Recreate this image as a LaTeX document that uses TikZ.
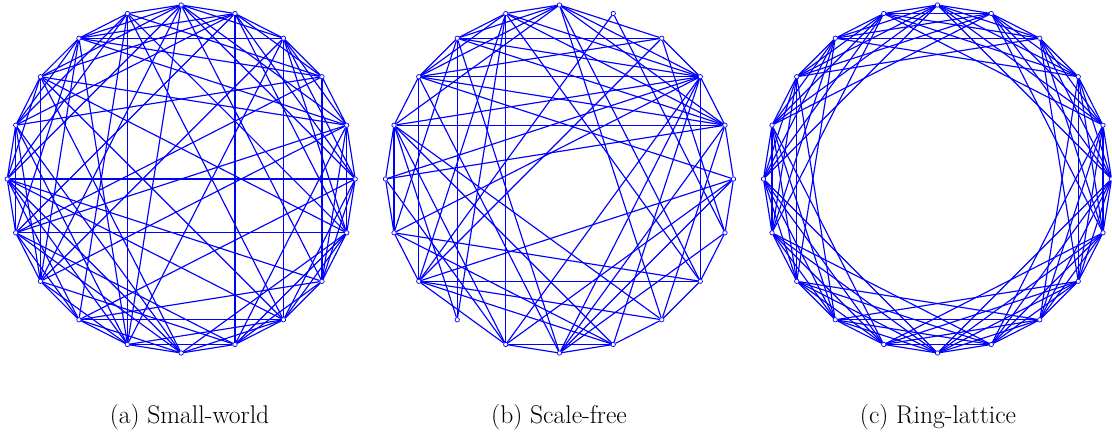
\documentclass[tikz,border=0pt]{standalone}
\usepackage{fontspec}
\definecolor{edgeblue}{RGB}{0,0,255}
\begin{document}
\begin{tikzpicture}[x=1pt,y=-1pt,
  vtx/.style={circle,draw=edgeblue,fill=white,line width=0.7pt,inner sep=0pt,minimum size=4.4pt},
  edge/.style={draw=edgeblue,line width=1.15pt},
  captext/.style={anchor=base,font=\fontsize{25.6pt}{30pt}\selectfont}]
\useasboundingbox (0,0) rectangle (1112,437);
% vertices
\foreach \g/\cx in {a/181.2,b/559.5,c/937.5}{
  \foreach \i in {0,...,19}{
    \node[vtx] (\g\i) at ({\cx+174*cos(18*\i)},{179-174*sin(18*\i)}) {};
  }
}
% (a) small-world
\foreach \s/\t in {0/1,0/10,0/3,0/4,0/5,
  1/2,1/3,1/8,1/5,1/12,
  2/3,2/4,2/11,2/6,2/7,
  3/4,3/5,3/17,3/7,3/14,
  4/5,4/16,4/7,4/8,4/9,
  5/6,5/7,5/8,5/18,5/10,
  6/7,6/19,6/9,6/10,6/14,
  7/8,7/9,7/1,7/11,7/12,
  8/9,8/10,8/17,8/12,8/19,
  9/10,9/11,9/12,9/2,9/14,
  10/11,10/18,10/13,10/14,10/15,
  11/12,11/13,11/1,11/15,11/4,
  12/13,12/14,12/5,12/16,12/3,
  13/14,13/15,13/6,13/17,13/0,
  14/15,14/16,14/17,14/7,14/5,
  15/16,15/17,15/8,15/19,15/9,
  16/17,16/18,16/19,16/11,16/1,
  17/18,17/19,17/0,17/10,17/6,
  18/19,18/0,18/1,18/2,18/13,
  19/0,19/1,19/11,19/3,19/4}
  \draw[edge] (a\s) -- (a\t);
% (b) scale-free
\foreach \s/\t in {5/6,6/7,7/8,8/9,9/10,10/11,11/12,14/15,15/16,16/17,17/18,18/19,19/0,0/1,1/2,2/3,
  7/3,8/2,9/1,12/18,14/16,8/12,7/13,6/14,2/18,9/11,13/9,13/6,4/12,4/19,
  5/7,5/8,5/3,5/2,5/1,5/17,5/9,5/18,
  9/2,9/14,9/16,9/17,
  8/6,8/1,8/0,8/15,
  7/1,7/2,7/15,7/11,
  6/2,6/12,6/18,
  12/0,12/3,12/16,
  11/18,11/2,10/1,10/2,
  1/17,1/15,2/14,2/15,2/16,14/0,3/19,15/19,14/10,15/0,
  6/1,3/8,12/14,11/16,17/12}
  \draw[edge] (b\s) -- (b\t);
% (c) ring-lattice
\foreach \i in {0,...,19}{
  \foreach \d in {1,...,5}{
    \pgfmathtruncatemacro\j{mod(\i+\d,20)}
    \draw[edge] (c\i) -- (c\j);
  }
}
% captions
\node[captext] (capa) at (189.5,423) {(a) Small-world};
\node[captext] (capb) at (559,423) {(b) Scale-free};
\node[captext] (capc) at (938,423) {(c) Ring-lattice};
\end{tikzpicture}
\end{document}
